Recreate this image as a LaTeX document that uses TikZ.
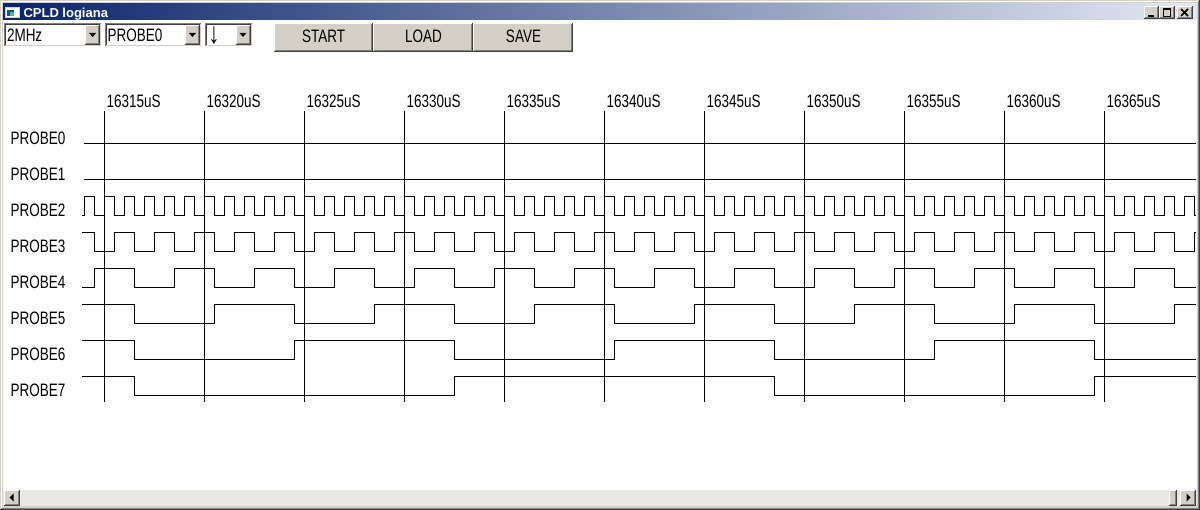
\documentclass[tikz,border=0pt]{standalone}
\usepackage{fontspec}
\usepackage{tikz}
\setmainfont{Liberation Sans}
\newfontfamily\guifont[FakeStretch=0.75]{Liberation Sans}

\definecolor{wingrey}{RGB}{212,208,200}
\definecolor{winshadow}{RGB}{128,128,128}
\definecolor{windark}{RGB}{64,64,64}
\definecolor{titledark}{RGB}{10,36,106}
\definecolor{titlelight}{RGB}{228,232,242}
\definecolor{scrolltrack}{RGB}{234,232,228}
\definecolor{icondark}{RGB}{0,96,128}
\definecolor{iconlight}{RGB}{96,168,160}

% raised 3d box: x1 y1 x2 y2
\newcommand{\raised}[4]{%
	\fill[wingrey] (#1,#2) rectangle (#3,#4);
	\draw[white] (#1+0.5,#4-1) -- (#1+0.5,#2+0.5) -- (#3-1,#2+0.5);
	\draw[windark] (#1,#4-0.5) -- (#3-0.5,#4-0.5) -- (#3-0.5,#2);
	\draw[winshadow] (#1+1,#4-1.5) -- (#3-1.5,#4-1.5) -- (#3-1.5,#2+1);
}
% sunken 3d box: x1 y1 x2 y2
\newcommand{\sunken}[4]{%
	\fill[white] (#1,#2) rectangle (#3,#4);
	\draw[winshadow] (#1+0.5,#4-1) -- (#1+0.5,#2+0.5) -- (#3-1,#2+0.5);
	\draw[windark] (#1+1.5,#4-2) -- (#1+1.5,#2+1.5) -- (#3-2,#2+1.5);
	\draw[wingrey] (#1+1,#4-1.5) -- (#3-1.5,#4-1.5) -- (#3-1.5,#2+1);
}
% combo box: left, right
\newcommand{\combo}[2]{%
	\sunken{#1}{23}{#2}{47}
	\raised{#2-17}{25}{#2-2}{45}
	\fill (#2-13,33) -- (#2-6,33) -- (#2-9.5,37) -- cycle;
}

\begin{document}
\begin{tikzpicture}[x=1pt,y=-1pt,line width=1pt,
	guitext/.style={font=\guifont\fontsize{18}{20}\selectfont,inner sep=0pt}]
	\useasboundingbox (0,0) rectangle (1200,510);
	
	% Draw window frame
	\fill[wingrey] (0,0) rectangle (1200,510);
	\draw[white] (1.5,509) -- (1.5,1.5) -- (1199,1.5);
	\draw[windark] (0,509.5) -- (1199.5,509.5) -- (1199.5,0);
	\draw[winshadow] (1,508.5) -- (1198.5,508.5) -- (1198.5,1);
	\fill[white] (3,19.5) rectangle (1196.5,490);
	
	% Draw title bar
	\shade[left color=titledark,right color=titlelight] (3,4) rectangle (1196.5,19.5);
	\fill[wingrey] (5,7) rectangle (20,18);
	\fill[white] (6,8) rectangle (19,17);
	\fill[icondark] (7,10) rectangle (14,16);
	\fill[iconlight] (10,12) rectangle (14,16);
	\draw (23,17.5) node[anchor=base west,inner sep=0pt,text=white,font=\bfseries\fontsize{13}{14}\selectfont] (title) {CPLD logiana};
	\raised{1144}{6}{1159}{19}
	\raised{1159}{6}{1175}{19}
	\raised{1177}{6}{1193}{19}
	\fill (1148,15) rectangle (1154,17);
	\draw (1163.5,8.5) rectangle (1170.5,16.5);
	\draw (1163,9.5) -- (1171,9.5);
	\draw[line width=1.5pt] (1181,9) -- (1188,16) (1188,9) -- (1181,16);
	
	% Draw tool bar
	\combo{4}{102}
	\combo{105}{202}
	\combo{204.5}{252.5}
	\draw (6.5,42) node[guitext,anchor=base west] (rate) {2MHz};
	\draw (107,42) node[guitext,anchor=base west] (trigprobe) {PROBE0};
	\draw (214,35.5) node[inner sep=0pt,font=\guifont\fontsize{30}{30}\selectfont] (trigedge) {↓};
	\raised{274}{23}{373}{52}
	\raised{373}{23}{473}{52}
	\raised{473}{23}{573}{52}
	\draw (323.5,43) node[guitext,anchor=base] (start) {START};
	\draw (423.5,43) node[guitext,anchor=base] (load) {LOAD};
	\draw (523.5,43) node[guitext,anchor=base] (save) {SAVE};
	
	% Draw time grid
	\foreach \t [count=\k from 0] in {16315,16320,...,16365} {
		\draw ({104.5+100*\k},111) -- ({104.5+100*\k},402);
		\draw ({106+100*\k},108) node[guitext,anchor=base west] (time\k) {\t uS};
	}
	
	% Draw probe names
	\foreach \i in {0,...,7}
		\draw (10,{145+36*\i}) node[guitext,anchor=base west] (probe\i) {PROBE\i};
	
	% Draw probe waveforms
	\foreach \i in {0,1}
		\draw (84,{143.5+36*\i}) -- (1195.5,{143.5+36*\i});
	\foreach \i in {2,...,7}
		\draw (82,{143.5+36*\i-19*mod(floor(58/2^(\i-2)),2)})
			\foreach \n [evaluate=\n as \lvl using {143.5+36*\i-19*mod(floor((\n+64)/2^(\i-2)),2)}] in {-5,...,106} { -| ({134.5+10*\n},\lvl) }
			-- ++(1,0);
	
	% Draw scroll bar
	\fill[scrolltrack] (3,490) rectangle (1196.5,506);
	\raised{4}{490}{20}{506}
	\fill (9.5,497.5) -- (13.5,493.5) -- (13.5,501.5) -- cycle;
	\raised{1169}{490}{1177}{506}
	\raised{1180}{490}{1196}{506}
	\fill (1190.5,497.5) -- (1186.5,493.5) -- (1186.5,501.5) -- cycle;
	
\end{tikzpicture}
\end{document}
